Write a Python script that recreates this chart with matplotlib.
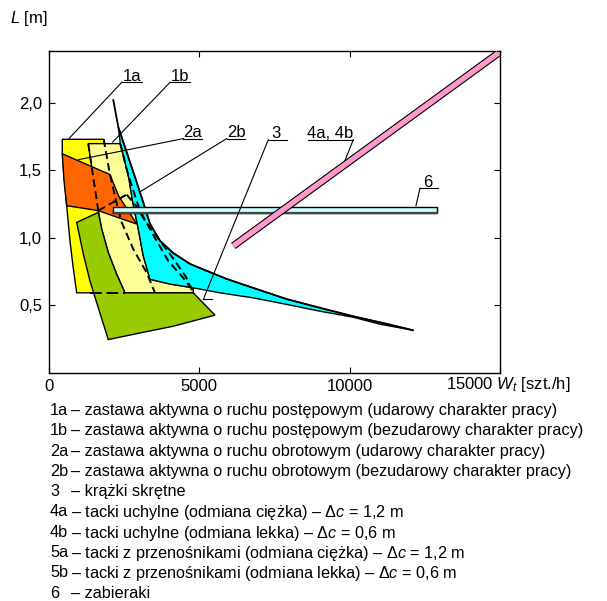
import matplotlib
matplotlib.use('Agg')
import matplotlib.pyplot as plt
import matplotlib.patheffects as pe

plt.rcParams['font.family'] = ['Liberation Sans', 'DejaVu Sans']
plt.rcParams['mathtext.fontset'] = 'custom'
plt.rcParams['mathtext.rm'] = 'Liberation Sans'
plt.rcParams['mathtext.it'] = 'Liberation Sans:italic'
plt.rcParams['mathtext.bf'] = 'Liberation Sans:bold'

FS = 12
FSL = 11.7

# ---------------- data (W_t [szt./h], L [m]) ----------------
# 1a - yellow region
zone1a_W = [442, 1819, 2029, 2228, 2418, 2804, 3249, 3525, 921, 798, 698, 589, 499, 442]
zone1a_L = [1.729, 1.729, 1.468, 1.275, 1.114, 0.916, 0.742, 0.593, 0.593, 0.792, 0.978, 1.238, 1.461, 1.625]

# 1b - light yellow region
zone1b_W = [1307, 2371, 2528, 2661, 2777, 2970, 3136, 3359, 4024, 4799, 4799,
            2528, 2252, 1972, 1753, 1640, 1463]
zone1b_L = [1.697, 1.697, 1.560, 1.436, 1.275, 1.065, 0.866, 0.693, 0.658, 0.630, 0.593,
            0.593, 0.730, 0.891, 1.065, 1.201, 1.461]

# 2a - orange region
zone2a_W = [442, 2029, 2312, 2917, 1640, 589, 499]
zone2a_L = [1.622, 1.468, 1.312, 1.102, 1.201, 1.238, 1.424]

# 3 - green region
zone3_W = [921, 1640, 1753, 1972, 2252, 2528, 4799, 5521, 4134, 3027, 1972, 1640, 1364, 1141]
zone3_L = [1.114, 1.188, 1.065, 0.891, 0.730, 0.593, 0.593, 0.428, 0.346, 0.296, 0.247, 0.482, 0.680, 0.881]

# cyan region: upper boundary curve and lower boundary
curve_W = [2139, 2305, 2471, 2694, 2917, 3136, 3359, 3692, 4124, 4690, 5255, 5920,
           6785, 7916, 9013, 10111, 11242, 12107]
curve_L = [2.019, 1.820, 1.709, 1.560, 1.411, 1.262, 1.104, 0.978, 0.889, 0.807, 0.755, 0.695,
           0.630, 0.546, 0.482, 0.420, 0.363, 0.316]
lower_W = [12107, 11009, 10111, 9013, 7916, 6785, 5687, 4799, 4024, 3359]
lower_L = [0.316, 0.361, 0.413, 0.457, 0.507, 0.556, 0.593, 0.630, 0.658, 0.693]
left_W = [3359, 3136, 2970, 2777, 2661, 2528, 2371]
left_L = [0.693, 0.866, 1.065, 1.275, 1.436, 1.560, 1.697]

# dashed boundaries
dashA_W = [1307, 1463, 1640]
dashA_L = [1.697, 1.461, 1.201]
dashS_W = [1640, 2584]
dashS_L = [1.201, 1.320]
dashB_W = [1819, 2029, 2228, 2418, 2804, 3249, 3525]
dashB_L = [1.729, 1.468, 1.275, 1.114, 0.916, 0.742, 0.593]
dashC1_W = [2371, 2594, 2860, 3027, 3426, 3968, 4467, 4746]
dashC1_L = [1.697, 1.498, 1.312, 1.201, 1.037, 0.829, 0.703, 0.621]
dashC2_W = [2584, 2894, 3193, 3692, 4191, 4557, 4799]
dashC2_L = [1.320, 1.238, 1.126, 0.978, 0.829, 0.710, 0.593]
dashBottom_W = [1364, 2528]
dashBottom_L = [0.593, 0.593]

# 4a, 4b - inclined band
band4_W = [6130, 14944]
band4_L = [0.94, 2.366]

# 6 - horizontal bar
bar6_W = [2140, 12915]
bar6_L = 1.205

# axis ticks
xticks = [0, 5000, 10000, 15000]
xticklabels = ['0', '5000', '10000', '']
yticks = [0.5, 1.0, 1.5, 2.0]
yticklabels = ['0,5', '1,0', '1,5', '2,0']

legend_keys = ['1a', '1b', '2a', '2b', '3', '4a', '4b', '5a', '5b', '6']
legend_texts = [
    '– zastawa aktywna o ruchu postępowym (udarowy charakter pracy)',
    '– zastawa aktywna o ruchu postępowym (bezudarowy charakter pracy)',
    '– zastawa aktywna o ruchu obrotowym (udarowy charakter pracy)',
    '– zastawa aktywna o ruchu obrotowym (bezudarowy charakter pracy)',
    '– krążki skrętne',
    r'– tacki uchylne (odmiana ciężka) – $\mathit{\Delta c}$ = 1,2 m',
    r'– tacki uchylne (odmiana lekka) – $\mathit{\Delta c}$ = 0,6 m',
    r'– tacki z przenośnikami (odmiana ciężka) – $\mathit{\Delta c}$ = 1,2 m',
    r'– tacki z przenośnikami (odmiana lekka) – $\mathit{\Delta c}$ = 0,6 m',
    '– zabieraki',
]

# annotation labels: text, text x, underline x-range, underline y, leader start, leader end
labels = [
    ('1a', 2751, (2418, 3083), 2.150, (2418, 2.150), (642, 1.729)),
    ('1b', 4357, (4024, 4690), 2.150, (4024, 2.150), (2119, 1.709)),
    ('2a', 4766, (4467, 5079), 1.734, (4467, 1.734), (975, 1.578)),
    ('2b', 6220, (5910, 6519), 1.734, (5910, 1.734), (3003, 1.337)),
    ('3', 7550, (7294, 7906), 1.726, (7294, 1.726), (5132, 0.544)),
    ('4a, 4b', 9346, (8624, 10121), 1.726, (10121, 1.726), (9845, 1.572)),
    ('6', 12582, (12339, 12948), 1.367, (12339, 1.367), (12206, 1.238)),
]
tick3_W = [5132, 5411]
tick3_L = [0.544, 0.544]

# ---------------- figure ----------------
fig = plt.figure(figsize=(6.07, 6.01), dpi=100)
ax = fig.add_axes([0.0807, 0.3794, 0.743, 0.535])

ec = dict(edgecolor='black', linewidth=1.0)
ax.fill(zone1a_W, zone1a_L, facecolor='#FFFF00', zorder=2, **ec)
ax.fill(zone1b_W, zone1b_L, facecolor='#FFFF99', zorder=3, **ec)
ax.fill(zone2a_W, zone2a_L, facecolor='#FF6600', zorder=4, **ec)
ax.fill(zone3_W, zone3_L, facecolor='#99CC00', zorder=5, **ec)

cyan_W = curve_W[1:] + lower_W[1:] + left_W[1:]
cyan_L = curve_L[1:] + lower_L[1:] + left_L[1:]
ax.fill(cyan_W, cyan_L, facecolor='#00FFFF', zorder=6, **ec)
ax.plot(curve_W, curve_L, color='black', lw=1.3, zorder=8)

dash = dict(color='black', lw=1.4, linestyle=(0, (4, 2.2)), zorder=7)
for xs, ys in [(dashA_W, dashA_L), (dashS_W, dashS_L), (dashB_W, dashB_L),
               (dashC1_W, dashC1_L), (dashC2_W, dashC2_L)]:
    ax.plot(xs, ys, **dash)
ax.plot(dashBottom_W, dashBottom_L, color='black', lw=1.4, linestyle=(0, (6, 2.5)), zorder=7)

# bar 6
h6 = 0.025
ax.fill_between(bar6_W, bar6_L - h6, bar6_L + h6, facecolor='#CCFFFF',
                edgecolor='black', linewidth=1.0, zorder=9)
ax.plot(bar6_W, [bar6_L - h6] * 2, color='#444444', lw=1.6, zorder=9)

# band 4a, 4b
ax.plot(band4_W, band4_L, color='#FF99CC', lw=3.8, solid_capstyle='butt', zorder=10,
        path_effects=[pe.Stroke(linewidth=5.4, foreground='black', capstyle='butt'), pe.Normal()])

# labels with leaders
for txt, tx, (u0, u1), uy, (s0, s1), (e0, e1) in labels:
    ax.plot([u0, u1], [uy, uy], color='black', lw=0.8, zorder=11)
    ax.plot([s0, e0], [s1, e1], color='black', lw=0.8, zorder=11)
    ax.text(tx, uy + 0.012, txt, ha='center', va='baseline', fontsize=FS, zorder=11)
ax.plot(tick3_W, tick3_L, color='black', lw=0.8, zorder=11)

ax.set_xlim(0, 15000)
ax.set_ylim(0, 2.379)
ax.set_xticks(xticks)
ax.set_xticklabels(xticklabels, fontsize=FS)
ax.set_yticks(yticks)
ax.set_yticklabels(yticklabels, fontsize=FS)
ax.tick_params(direction='in', top=True, right=True, length=4, width=0.8, pad=5)
ax.tick_params(axis='x', pad=4)
for s in ax.spines.values():
    s.set_linewidth(1.0)

W, H = 607, 601
fig.text(10 / W, 1 - 18 / H, '$L$ [m]', fontsize=FS, ha='left', va='center')
fig.text(446 / W, 1 - 385 / H, '15000 $W_t$ [szt./h]', fontsize=FS, ha='left', va='center')

for i, (k, t) in enumerate(zip(legend_keys, legend_texts)):
    y = 1 - (409 + 20.3 * i) / H
    fig.text(50 / W, y, k, fontsize=FSL, ha='left', va='center_baseline')
    fig.text(71 / W, y, t, fontsize=FSL, ha='left', va='center_baseline')

fig.savefig('out.png', dpi=100)
